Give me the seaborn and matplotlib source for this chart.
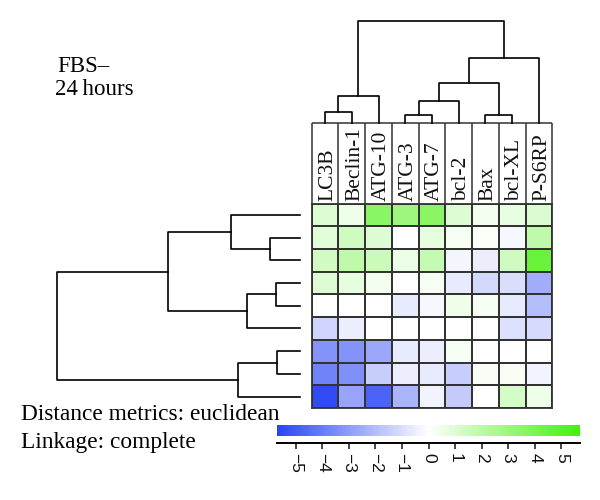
import numpy as np
import pandas as pd
import matplotlib
matplotlib.use("Agg")
import matplotlib.pyplot as plt
from matplotlib.colors import LinearSegmentedColormap
import seaborn as sns

# ---------------- data ----------------
genes = ["LC3B", "Beclin-1", "ATG-10", "ATG-3", "ATG-7", "bcl-2", "Bax", "bcl-XL", "P-S6RP"]
row_ids = ["s1", "s2", "s3", "s4", "s5", "s6", "s7", "s8", "s9"]

r1 = [1.0, 0.5, 3.6, 3.0, 3.6, 1.0, 0.4, 0.7, 1.1]
r2 = [0.9, 1.5, 1.0, 0.0, 0.8, 0.3, 0.1, -0.2, 2.0]
r3 = [1.4, 2.0, 1.6, 0.6, 1.8, -0.3, -0.5, 1.5, 4.6]
r4 = [1.0, 0.8, 0.4, 0.0, 0.3, -0.6, -1.2, -1.0, -2.5]
r5 = [0.0, 0.0, 0.0, -0.6, -0.2, 0.5, 0.3, -0.6, -2.0]
r6 = [-1.3, -0.5, 0.0, 0.0, 0.0, 0.0, 0.0, -0.9, -1.1]
r7 = [-3.3, -3.3, -2.7, -0.6, -0.5, 0.3, 0.0, 0.0, 0.0]
r8 = [-3.8, -3.4, -1.5, -0.5, -0.6, -1.5, 0.2, 0.2, -0.4]
r9 = [-5.5, -2.8, -4.8, -2.3, -0.4, -1.6, 0.0, 1.3, 0.5]
rows = [r1, r2, r3, r4, r5, r6, r7, r8, r9]

# dendrogram merges: (left cluster, right cluster, merge height); clusters >= 9 are earlier merges
col_links = [(0, 1, 11), (9, 2, 27), (3, 4, 8), (11, 5, 22), (6, 7, 8),
             (12, 13, 40), (14, 8, 65), (10, 15, 102)]
row_links = [(1, 2, 30), (0, 9, 69), (3, 4, 24), (11, 5, 53), (10, 12, 132),
             (6, 7, 23), (14, 8, 62), (13, 15, 243)]

cbar_ticks = [-5, -4, -3, -2, -1, 0, 1, 2, 3, 4, 5]
cbar_labels = ["\u22125", "\u22124", "\u22123", "\u22122", "\u22121", "0", "1", "2", "3", "4", "5"]
vlim = 5.7

title_lines = ["FBS\u2013", "24\u2009hours"]
note_lines = ["Distance metrics: euclidean", "Linkage: complete"]

# ---------------- figure ----------------
W, H = 600, 500
fig = plt.figure(figsize=(W / 100, H / 100), dpi=100)


def px_axes(x0, y0, x1, y1):
    return fig.add_axes([x0 / W, 1 - y1 / H, (x1 - x0) / W, (y1 - y0) / H])


cmap = LinearSegmentedColormap.from_list("bwg", ["#2a46f5", "#ffffff", "#46f00c"])
grid_col = "#333333"
serif = ["Liberation Serif", "DejaVu Serif"]

hx0, hx1, hy0, hy1 = 311.7, 552.3, 203.5, 408.0

# heatmap
ax_hm = px_axes(hx0, hy0, hx1, hy1)
df = pd.DataFrame(rows, index=row_ids, columns=genes)
sns.heatmap(df, ax=ax_hm, cmap=cmap, vmin=-vlim, vmax=vlim, cbar=False,
            linewidths=1.1, linecolor=grid_col, xticklabels=False, yticklabels=False)
for s in ax_hm.spines.values():
    s.set_visible(True)
    s.set_color(grid_col)
    s.set_linewidth(1.3)
ax_hm.set_xlabel("")
ax_hm.set_ylabel("")

# column label boxes
ax_lab = px_axes(hx0, 123, hx1, hy0)
ax_lab.set_xlim(0, len(genes))
ax_lab.set_ylim(0, 1)
ax_lab.axis("off")
ax_lab.vlines(range(len(genes) + 1), 0, 1, color=grid_col, lw=1.1, clip_on=False)
ax_lab.hlines(1, 0, len(genes), color=grid_col, lw=1.1, clip_on=False)
for i, g in enumerate(genes):
    ax_lab.text(i + 0.6, 0.03, g, rotation=90, ha="center", va="bottom",
                fontsize=15.5, family=serif, color="#111111")


def draw_dendro(ax, links, n, orient):
    pos = {i: i + 0.5 for i in range(n)}
    hgt = {i: 0.0 for i in range(n)}
    for k, (a, b, h) in enumerate(links):
        xa, xb, ha, hb = pos[a], pos[b], hgt[a], hgt[b]
        if orient == "top":
            ax.plot([xa, xa, xb, xb], [ha, h, h, hb], color="black", lw=1.2,
                    clip_on=False, solid_capstyle="projecting")
        else:
            ax.plot([ha, h, h, hb], [xa, xa, xb, xb], color="black", lw=1.2,
                    clip_on=False, solid_capstyle="projecting")
        pos[n + k] = (xa + xb) / 2
        hgt[n + k] = h


# column dendrogram
ax_cd = px_axes(hx0, 21, hx1, 123)
draw_dendro(ax_cd, col_links, len(genes), "top")
ax_cd.set_xlim(0, len(genes))
ax_cd.set_ylim(0, col_links[-1][2])
ax_cd.axis("off")

# row dendrogram
ax_rd = px_axes(56.7, hy0, 300, hy1)
draw_dendro(ax_rd, row_links, len(row_ids), "left")
ax_rd.set_xlim(row_links[-1][2], 0)
ax_rd.set_ylim(len(row_ids), 0)
ax_rd.axis("off")

# colour bar
ax_cb = px_axes(277, 425, 580, 436)
grad = np.linspace(-vlim, vlim, 300).reshape(1, -1)
ax_cb.imshow(grad, cmap=cmap, vmin=-vlim, vmax=vlim, aspect="auto",
             extent=[-vlim, vlim, 0, 1])
ax_cb.set_xlim(-vlim, vlim)
ax_cb.set_yticks([])
for side in ["top", "left", "right"]:
    ax_cb.spines[side].set_visible(False)
ax_cb.spines["bottom"].set_position(("outward", 5))
ax_cb.spines["bottom"].set_linewidth(1.4)
ax_cb.set_xticks(cbar_ticks)
ax_cb.set_xticklabels(cbar_labels, rotation=-90, fontsize=12.5,
                      family=["Liberation Sans", "DejaVu Sans"])
ax_cb.tick_params(axis="x", direction="out", length=4, width=1.1, pad=3.5, colors="#111111")

# texts
fig.text(57 / W, 1 - 71.7 / H, title_lines[0], fontsize=16.5, family=serif, va="baseline")
fig.text(55 / W, 1 - 95 / H, title_lines[1], fontsize=16.5, family=serif, va="baseline")
fig.text(21 / W, 1 - 420 / H, note_lines[0], fontsize=16.8, family=serif, va="baseline")
fig.text(21 / W, 1 - 448 / H, note_lines[1], fontsize=16.8, family=serif, va="baseline")

fig.savefig("out.png", dpi=100)
